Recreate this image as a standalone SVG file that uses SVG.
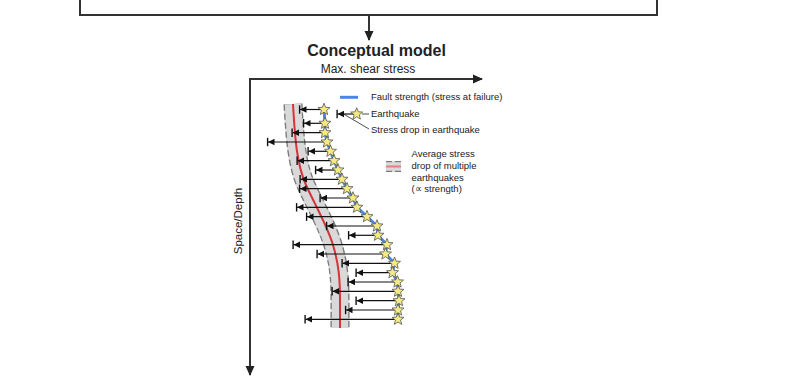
<svg xmlns="http://www.w3.org/2000/svg" xmlns:xlink="http://www.w3.org/1999/xlink" width="800" height="382" viewBox="0 0 800 382">
<style>
text{font-family:"Liberation Sans",Arial,sans-serif;fill:#222}
.leg{font-size:9.5px}
.ax{stroke:#333;stroke-width:2;fill:none}
.drop{stroke:#111;stroke-width:1.2;fill:none;marker-end:url(#tick)}
.thin{stroke:#222;stroke-width:0.8;fill:none}
.bandbg{stroke:#d9d9d9;fill:none}
.banddash{stroke:#7a7a7a;fill:none;stroke-dasharray:6 3}
.red{stroke:#d6333b;stroke-width:2;fill:none}
.pink{stroke:#ec7b80;stroke-width:2;fill:none}
.blue{stroke:#4a86e8;stroke-width:3;fill:none;stroke-linejoin:round}
.star{fill:#f4ea82;stroke:#555;stroke-width:0.8}
</style>
<defs>
<marker id="ah" viewBox="0 0 10 10" refX="9" refY="5" markerWidth="10" markerHeight="10" markerUnits="userSpaceOnUse" orient="auto">
<path d="M0,0.5 L10,5 L0,9.5 Z" fill="#222"/>
</marker>
<marker id="tick" viewBox="-9 -5 11 10" refX="0" refY="0" markerWidth="11" markerHeight="10" markerUnits="userSpaceOnUse" orient="auto">
<path d="M0,0 L-6.5,-3.2 L-6.5,3.2 Z" fill="#111"/>
<path d="M0.4,-4.2 V4.2" stroke="#111" stroke-width="1.4"/>
</marker>
<path id="star" d="M0,-6.3 L1.6,-2.2 L6,-1.95 L2.6,0.84 L3.7,5.1 L0,2.73 L-3.7,5.1 L-2.6,0.84 L-6,-1.95 L-1.6,-2.2 Z"/>
<path id="mid" d="M293,104 C295,140 297,165 306,185 S327,225 333,245 S340,280 340,300 L340,328"/>
</defs>

<g id="connectors">
<path class="ax" d="M80,0 V15 H657 V0"/>
<path class="ax" d="M369,15 V40" marker-end="url(#ah)"/>
</g>

<g id="title">
<text x="376.5" y="56" font-size="16" font-weight="bold" text-anchor="middle">Conceptual model</text>
</g>

<g id="axes">
<path class="ax" d="M250,375 V79 H482" marker-end="url(#ah)"/>
<path class="ax" d="M250,79 V375" marker-end="url(#ah)"/>
<text x="368" y="72.5" font-size="12" text-anchor="middle">Max. shear stress</text>
<text transform="translate(242,221) rotate(-90)" font-size="11.5" text-anchor="middle">Space/Depth</text>
</g>

<g id="average-band">
<use xlink:href="#mid" class="bandbg" stroke-width="19"/>
<use xlink:href="#mid" class="banddash" stroke-width="19"/>
<use xlink:href="#mid" class="bandbg" stroke-width="16.4"/>
<use xlink:href="#mid" class="red"/>
</g>

<g id="stress-drops">
<path class="drop" d="M324,109.5 H300"/>
<path class="drop" d="M325,123.3 H304"/>
<path class="drop" d="M325,132.7 H292.5"/>
<path class="drop" d="M327,142 H268"/>
<path class="drop" d="M330.5,151.3 H308.5"/>
<path class="drop" d="M334,160.7 H297.5"/>
<path class="drop" d="M338,170 H316"/>
<path class="drop" d="M342,179.3 H300.5"/>
<path class="drop" d="M347,188.7 H300"/>
<path class="drop" d="M353,198 H320.5"/>
<path class="drop" d="M357,207.3 H297"/>
<path class="drop" d="M367,216.7 H307"/>
<path class="drop" d="M377,226 H327"/>
<path class="drop" d="M378,235.3 H349"/>
<path class="drop" d="M387,244.7 H293.5"/>
<path class="drop" d="M385.5,254 H317.5"/>
<path class="drop" d="M394.5,263.3 H342.5"/>
<path class="drop" d="M392.5,272.7 H356.5"/>
<path class="drop" d="M397.5,282 H348.5"/>
<path class="drop" d="M398,291.3 H332.5"/>
<path class="drop" d="M399,300.7 H356.5"/>
<path class="drop" d="M398,310 H346"/>
<path class="drop" d="M398,319.3 H305.5"/>
</g>

<g id="fault-strength">
<polyline class="blue" points="324,109.5 325,123.3 325,132.7 327,142 330.5,151.3 334,160.7 338,170 342,179.3 347,188.7 353,198 357,207.3 367,216.7 377,226 378,235.3 387,244.7 385.5,254 394.5,263.3 392.5,272.7 397.5,282 398,291.3 399,300.7 398,310 398,319.3"/>
</g>

<g id="earthquakes" class="star">
<use xlink:href="#star" x="324" y="109.5"/>
<use xlink:href="#star" x="325" y="123.3"/>
<use xlink:href="#star" x="325" y="132.7"/>
<use xlink:href="#star" x="327" y="142"/>
<use xlink:href="#star" x="330.5" y="151.3"/>
<use xlink:href="#star" x="334" y="160.7"/>
<use xlink:href="#star" x="338" y="170"/>
<use xlink:href="#star" x="342" y="179.3"/>
<use xlink:href="#star" x="347" y="188.7"/>
<use xlink:href="#star" x="353" y="198"/>
<use xlink:href="#star" x="357" y="207.3"/>
<use xlink:href="#star" x="367" y="216.7"/>
<use xlink:href="#star" x="377" y="226"/>
<use xlink:href="#star" x="378" y="235.3"/>
<use xlink:href="#star" x="387" y="244.7"/>
<use xlink:href="#star" x="385.5" y="254"/>
<use xlink:href="#star" x="394.5" y="263.3"/>
<use xlink:href="#star" x="392.5" y="272.7"/>
<use xlink:href="#star" x="397.5" y="282"/>
<use xlink:href="#star" x="398" y="291.3"/>
<use xlink:href="#star" x="399" y="300.7"/>
<use xlink:href="#star" x="398" y="310"/>
<use xlink:href="#star" x="398" y="319.3"/>
</g>

<g id="legend-strength">
<path class="blue" d="M340,97.3 H358"/>
<text class="leg" x="371" y="100">Fault strength (stress at failure)</text>
</g>

<g id="legend-earthquake">
<path class="drop" d="M356,114 H337.5"/>
<path class="thin" d="M362,114 H369"/>
<path class="thin" d="M343.5,114 L369,129"/>
<use xlink:href="#star" x="356.7" y="114" class="star"/>
<text class="leg" x="371" y="117">Earthquake</text>
<text class="leg" x="371" y="132.5">Stress drop in earthquake</text>
</g>

<g id="legend-average">
<path class="bandbg" stroke-width="11" d="M386,166.5 H401"/>
<path class="banddash" stroke-width="11" stroke-dasharray="4 2" d="M386,166.5 H401"/>
<path class="bandbg" stroke-width="8.6" d="M386,166.5 H401"/>
<path class="pink" d="M386,166.5 H401"/>
<text class="leg" x="411.5" y="157">Average stress</text>
<text class="leg" x="411.5" y="168.8">drop of multiple</text>
<text class="leg" x="411.5" y="180.5">earthquakes</text>
<text class="leg" x="411.5" y="192">(∝ strength)</text>
</g>
</svg>
